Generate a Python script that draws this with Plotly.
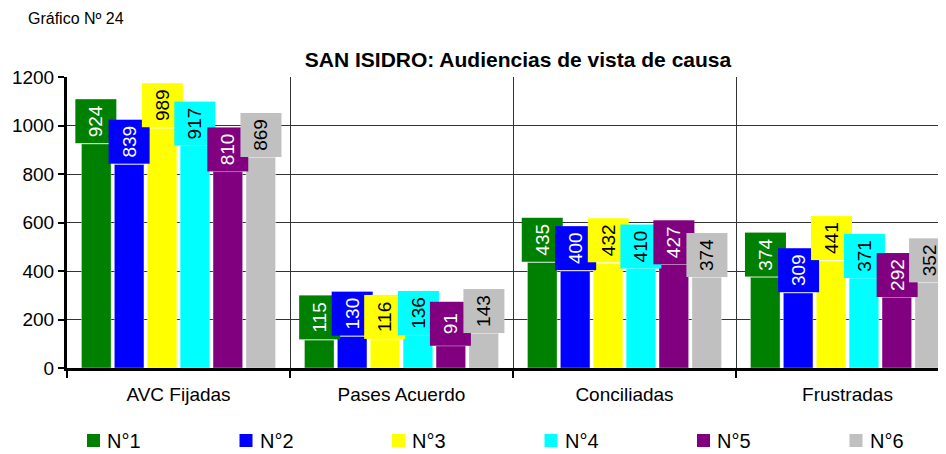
import plotly.graph_objects as go

categories = ["AVC Fijadas", "Pases Acuerdo", "Conciliadas", "Frustradas"]
series_names = ["N°1", "N°2", "N°3", "N°4", "N°5", "N°6"]
n1 = [924, 115, 435, 374]
n2 = [839, 130, 400, 309]
n3 = [989, 116, 432, 441]
n4 = [917, 136, 410, 371]
n5 = [810, 91, 427, 292]
n6 = [869, 143, 374, 352]
series_values = [n1, n2, n3, n4, n5, n6]
colors = ["#008000", "#0000FF", "#FFFF00", "#00FFFF", "#800080", "#C0C0C0"]
label_font_colors = ["white", "white", "black", "black", "white", "black"]
y_ticks = [0, 200, 400, 600, 800, 1000, 1200]

FONT = "Liberation Sans, Arial, sans-serif"
OFF = 8  # page body margin offset
W, H = 946 - OFF, 454 - OFF
ML, MT = 67 - OFF, 77 - OFF
MR = 0
MB = H - (368 - OFF)
PW, PH = W - ML - MR, H - MT - MB
CAT_PX = 223.0
bargap = 0.115
nser = len(series_names)

def px_x(p):
    # p: page pixel x
    return (p - OFF - ML) / PW

def px_y(p):
    # p: page pixel y
    return 1 - (p - OFF - MT) / PH

fig = go.Figure()
for name, vals, col in zip(series_names, series_values, colors):
    fig.add_trace(go.Bar(x=categories, y=vals, name=name, marker_color=col,
                         marker_line_width=0.6, marker_line_color="rgba(255,255,255,0.6)",
                         showlegend=False))

slot = (1 - bargap) / nser
for i, (vals, col, fc) in enumerate(zip(series_values, colors, label_font_colors)):
    off = -(1 - bargap) / 2 + (i + 0.5) * slot
    for j, v in enumerate(vals):
        fig.add_annotation(x=j + off, y=v, xref="x", yref="y", text=str(v),
                           showarrow=False, textangle=-90, bgcolor=col,
                           font=dict(family=FONT, size=19, color=fc),
                           width=43, height=40, xanchor="center", yanchor="bottom",
                           borderpad=0)

# custom legend (squares + text)
for k, (name, col) in enumerate(zip(series_names, colors)):
    x0 = 87 + k * 152.5
    fig.add_shape(type="rect", xref="paper", yref="paper",
                  x0=px_x(x0), x1=px_x(x0 + 13), y0=px_y(447), y1=px_y(434),
                  fillcolor=col, line=dict(width=0))
    fig.add_annotation(text=name, xref="paper", yref="paper", x=px_x(x0 + 18), y=px_y(440.5),
                       xanchor="left", yanchor="middle", showarrow=False,
                       font=dict(family=FONT, size=20, color="black"))

fig.add_annotation(text="Gráfico Nº 24", xref="paper", yref="paper", x=px_x(26), y=px_y(18),
                   xanchor="left", yanchor="middle", showarrow=False,
                   font=dict(family=FONT, size=16, color="black"))

fig.update_layout(
    width=W, height=H,
    margin=dict(l=ML, r=MR, t=MT, b=MB, autoexpand=False),
    paper_bgcolor="white", plot_bgcolor="white",
    bargap=bargap, bargroupgap=0.1, barmode="group",
    font=dict(family=FONT, size=19, color="black"),
    title=dict(text="<b>SAN ISIDRO: Audiencias de vista de causa</b>", x=(518 - OFF) / W,
               xanchor="center", y=1 - (60 - OFF) / H, yanchor="middle",
               font=dict(size=21, family=FONT)),
    showlegend=False,
    xaxis=dict(type="category", range=[-0.5, -0.5 + PW / CAT_PX], tickson="boundaries",
               ticks="outside", ticklen=7, tickwidth=2, tickcolor="black", showgrid=True,
               gridcolor="#333333", gridwidth=1, showline=True, linecolor="black", linewidth=3,
               automargin=False, ticklabelstandoff=7, tickfont=dict(size=19, family=FONT)),
    yaxis=dict(range=[0, 1200], tickvals=y_ticks, ticks="outside", ticklen=6, tickwidth=2,
               tickcolor="black", showgrid=True, gridcolor="#333333", gridwidth=1,
               showline=True, linecolor="black", linewidth=3, zeroline=False, automargin=False,
               tickfont=dict(size=19, family=FONT)),
)

fig.write_html("out.html")
